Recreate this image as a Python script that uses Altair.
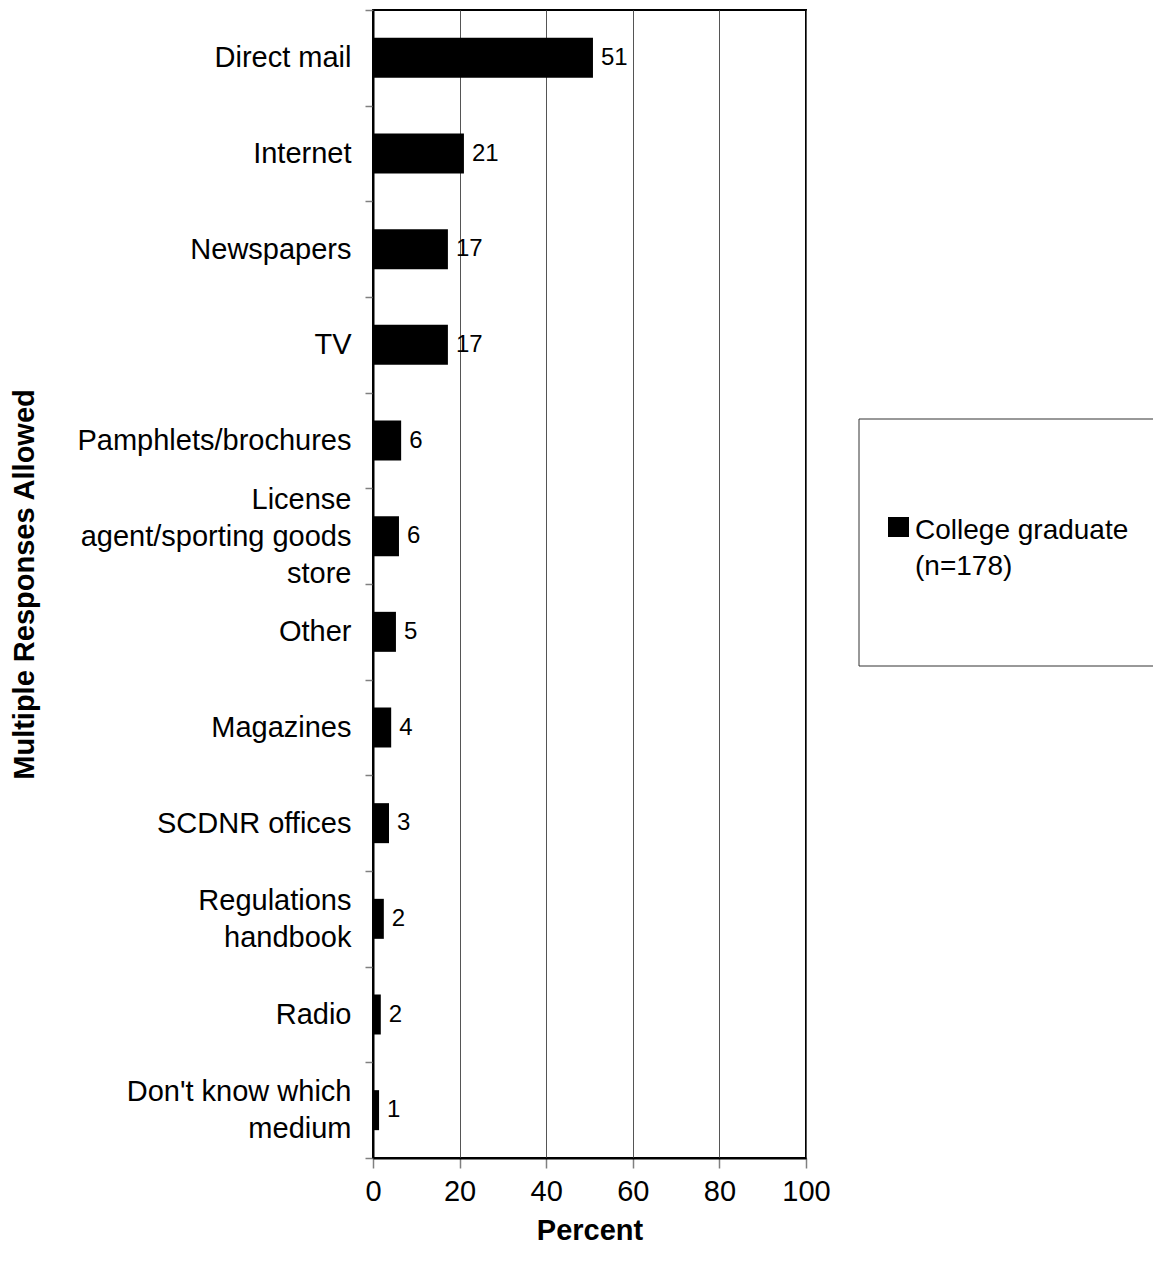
import altair as alt
import pandas as pd

categories = [
    "Direct mail",
    "Internet",
    "Newspapers",
    "TV",
    "Pamphlets/brochures",
    "License\nagent/sporting goods\nstore",
    "Other",
    "Magazines",
    "SCDNR offices",
    "Regulations\nhandbook",
    "Radio",
    "Don't know which\nmedium",
]
values = [50.8, 21.0, 17.3, 17.3, 6.5, 6.0, 5.3, 4.2, 3.7, 2.5, 1.8, 1.4]
value_labels = ["51", "21", "17", "17", "6", "6", "5", "4", "3", "2", "2", "1"]
x_ticks = [0, 20, 40, 60, 80, 100]
legend_lines = ["College graduate", "(n=178)"]

FONT = "Liberation Sans"
LINE_H = 37

df = pd.DataFrame({"category": categories, "value": values, "label": value_labels})

y_enc = alt.Y(
    "category:N",
    sort=categories,
    scale=alt.Scale(domain=categories, paddingInner=0, paddingOuter=0),
    axis=alt.Axis(
        title="Multiple Responses Allowed",
        tickBand="extent",
        labelExpr="split(datum.label, '\\n')",
        labelLineHeight=LINE_H,
        labelLimit=0,
        labelFontSize=29,
        labelPadding=14,
        labelOffset={
            "condition": [
                {"test": "length(split(datum.value, '\\n')) == 3", "value": -LINE_H},
                {"test": "length(split(datum.value, '\\n')) == 2", "value": -LINE_H / 2},
            ],
            "value": 0,
        },
        tickSize=8,
        tickColor="#808080",
        tickWidth=1.5,
        domainColor="black",
        domainWidth=2,
        titleFontSize=29,
        titleFontWeight="bold",
        titleX=-340,
        titleY=574,
        titleAngle=270,
        titleAlign="center",
        titleBaseline="alphabetic",
        grid=False,
    ),
)

x_enc = alt.X(
    "value:Q",
    scale=alt.Scale(domain=[0, 100], nice=False),
    axis=alt.Axis(
        title="Percent",
        values=x_ticks,
        labelFontSize=29,
        labelPadding=9,
        labelFlush=False,
        labelOverlap=False,
        tickSize=10,
        tickColor="#808080",
        tickWidth=1.5,
        domainColor="black",
        domainWidth=2,
        grid=True,
        gridColor="#555555",
        gridWidth=1,
        titleFontSize=29,
        titleFontWeight="bold",
        titlePadding=10,
    ),
)

base = alt.Chart(df)

bars = base.mark_bar(color="black", size=40).encode(y=y_enc, x=x_enc)

texts = base.mark_text(
    align="left", baseline="middle", dx=8, fontSize=24, font=FONT, color="black"
).encode(y=alt.Y("category:N", sort=categories), x="value:Q", text="label:N")

one = pd.DataFrame({"k": [0]})

legend_box = alt.Chart(one).mark_rect(
    fill="white", fillOpacity=0, stroke="#333333", strokeWidth=1
).encode(
    x=alt.value(486), x2=alt.value(792), y=alt.value(409), y2=alt.value(656)
)

legend_symbol = alt.Chart(one).mark_rect(color="black").encode(
    x=alt.value(515), x2=alt.value(536), y=alt.value(507), y2=alt.value(527)
)

legend_text = alt.Chart(one).mark_text(
    text=legend_lines,
    align="left",
    baseline="alphabetic",
    fontSize=28,
    lineHeight=36,
    font=FONT,
    color="black",
).encode(x=alt.value(542), y=alt.value(529))

chart = (
    alt.layer(legend_box, bars, texts, legend_symbol, legend_text)
    .properties(
        width=433,
        height=1148,
        autosize=alt.AutoSizeParams(type="none"),
        padding={"left": 365, "top": 2, "right": 347, "bottom": 100},
    )
    .configure_view(stroke="black", strokeWidth=2)
    .configure_axis(
        labelFont=FONT, titleFont=FONT, labelColor="black", titleColor="black"
    )
    .configure_text(font=FONT)
)

chart.save("out.html", embed_options={"renderer": "svg", "actions": False})
